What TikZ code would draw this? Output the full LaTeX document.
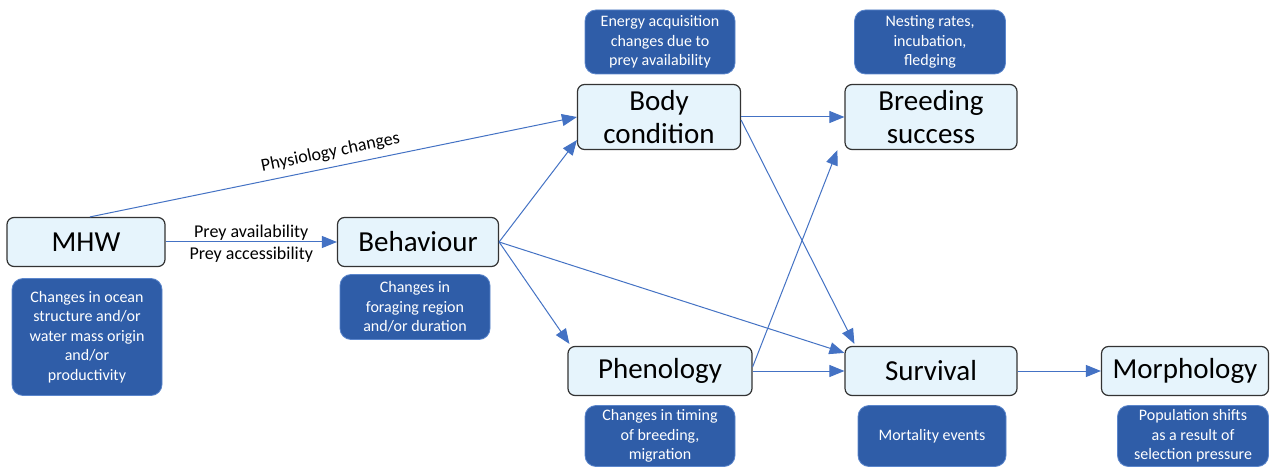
\documentclass[tikz,border=0pt]{standalone}
\usepackage{fontspec}
\setmainfont{Carlito}
\usetikzlibrary{arrows.meta,calc}
\definecolor{lineblue}{HTML}{4472C4}
\definecolor{boxfill}{HTML}{E6F4FC}
\definecolor{notefill}{HTML}{2F5DA8}
\definecolor{noteborder}{HTML}{5B86CC}
\begin{document}
\begin{tikzpicture}[x=1pt,y=-1pt,
  mainbox/.style={draw=black!80, line width=1.2pt, fill=boxfill, rounded corners=7pt, inner sep=0pt, align=center, font=\fontsize{29}{33}\selectfont},
  note/.style={draw=noteborder, line width=0.8pt, fill=notefill, text=white, rounded corners=11pt, inner sep=0pt, align=center, font=\fontsize{16}{19.5}\selectfont},
  conn/.style={draw=lineblue, line width=1pt, -{Triangle[length=15pt,width=12pt]}},
  elabel/.style={font=\fontsize{18}{20}\selectfont, text=black}
]
\fill[white] (0,0) rectangle (1287,470);
\useasboundingbox (0,0) rectangle (1287,470);

% main boxes
\node[mainbox, minimum width=158pt, minimum height=49pt] (mhw) at (86,242) {MHW};
\node[mainbox, minimum width=161pt, minimum height=49pt] (beh) at (418,242) {Behaviour};
\node[mainbox, minimum width=163pt, minimum height=65pt] (body) at (659,117) {Body\\condition};
\node[mainbox, minimum width=172pt, minimum height=65pt] (breed) at (931,117) {Breeding\\success};
\node[mainbox, minimum width=184pt, minimum height=49pt] (phen) at (660,371) {Phenology};
\node[mainbox, minimum width=172pt, minimum height=49pt] (surv) at (931,371) {Survival};
\node[mainbox, minimum width=167pt, minimum height=49pt] (morph) at (1185,371) {Morphology};

% notes
\node[note, minimum width=150pt, minimum height=117pt] (mhwnote) at (87,337) {Changes in ocean\\structure and/or\\water mass origin\\and/or\\productivity};
\node[note, minimum width=150pt, minimum height=65pt] (behnote) at (415,307) {Changes in\\foraging region\\and/or duration};
\node[note, minimum width=150pt, minimum height=64pt] (bodynote) at (660,42) {Energy acquisition\\changes due to\\prey availability};
\node[note, minimum width=151pt, minimum height=64pt] (breednote) at (930,42) {Nesting rates,\\incubation,\\fledging};
\node[note, minimum width=150pt, minimum height=61pt] (phennote) at (660,436) {Changes in timing\\of breeding,\\migration};
\node[note, minimum width=148pt, minimum height=61pt] (survnote) at (932,436) {Mortality events};
\node[note, minimum width=151pt, minimum height=61pt] (morphnote) at (1193,436) {Population shifts\\as a result of\\selection pressure};

% connectors
\draw[conn] ($(mhw.north)+(4,0)$) -- node[elabel, above=3pt, sloped] {Physiology changes} (body.west);
\draw[conn] (mhw.east) -- node[elabel, above=-2pt] {Prey availability} node[elabel, below=1pt] {Prey accessibility} (beh.west);
\draw[conn] (beh.east) -- ($(body.south west)+(0,-10)$);
\draw[conn] (beh.east) -- ($(phen.north west)+(2,-2)$);
\draw[conn] (beh.east) -- ($(surv.north west)+(0,7)$);
\draw[conn] (body.east) -- (breed.west);
\draw[conn] ($(body.east)+(0,3)$) -- ($(surv.north west)+(10,-2)$);
\draw[conn] (phen.east) -- (surv.west);
\draw[conn] ($(phen.east)+(0,-4)$) -- ($(breed.south west)+(-7,0)$);
\draw[conn] (surv.east) -- (morph.west);
\end{tikzpicture}
\end{document}
